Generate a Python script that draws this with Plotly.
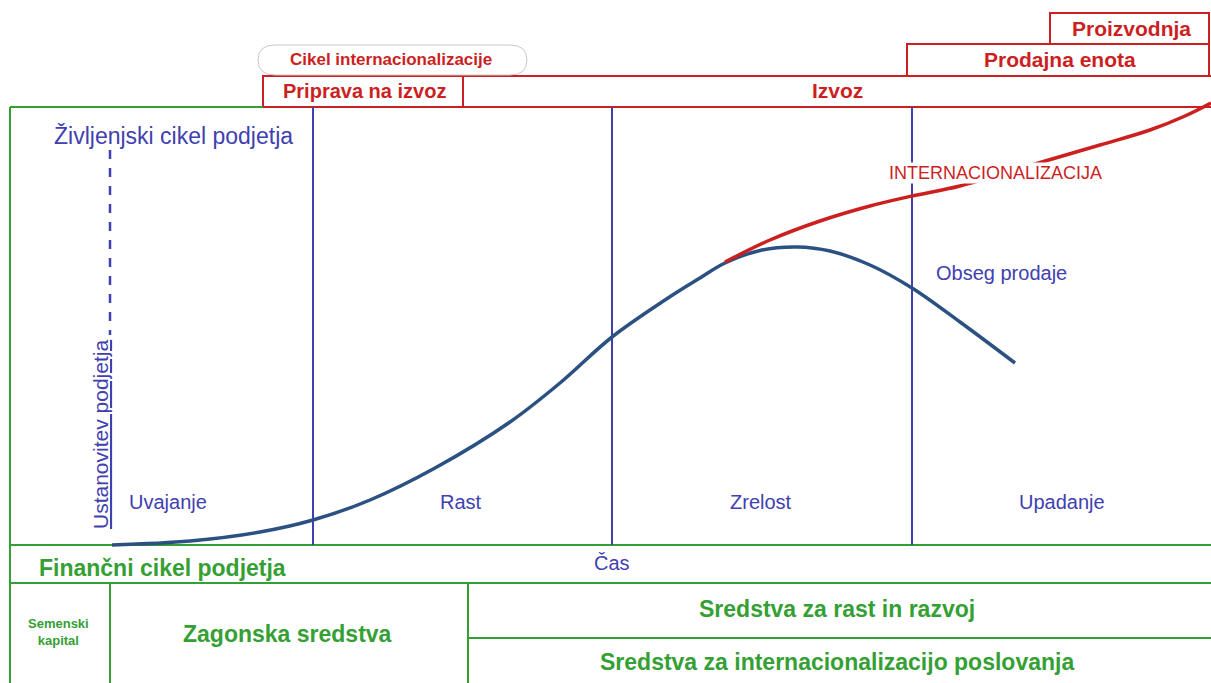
import plotly.graph_objects as go

# prodaja (life cycle curve) in internacionalizacija (pixel units)
sales_x = [112, 190, 260, 313, 370, 435, 510, 560, 612, 665, 700, 725, 762, 797, 830, 870, 912, 960, 1015]
sales_y = [545, 541, 532, 520, 500, 468, 422, 383, 337, 300, 278, 263, 250, 247, 251, 265, 288, 322, 363]
intl_x = [725, 770, 820, 870, 912, 960, 1035, 1100, 1150, 1185, 1211]
intl_y = [262, 240, 221, 206, 196, 186, 164, 145, 130, 116, 103]

phase_labels = ["Uvajanje", "Rast", "Zrelost", "Upadanje"]
phase_x = [168, 461, 761, 1062]
phase_bounds = [313, 612, 912]

BLUE = "#4040b0"
CURVE = "#2b5183"
RED = "#cc1f1f"
GREEN = "#34a034"
FONT = "Liberation Sans"
W, H = 1211, 683

fig = go.Figure()
fig.add_trace(go.Scatter(x=sales_x, y=sales_y, mode="lines", line=dict(color=CURVE, width=3.5, shape="spline"), hoverinfo="skip"))
fig.add_trace(go.Scatter(x=intl_x, y=intl_y, mode="lines", line=dict(color=RED, width=3.5, shape="spline"), hoverinfo="skip"))

shapes = []
def line(x0, y0, x1, y1, color, width=2, dash=None):
    shapes.append(dict(type="line", x0=x0, y0=y0, x1=x1, y1=y1, layer="below",
                       line=dict(color=color, width=width, dash=dash)))

def rect(x0, y0, x1, y1, color, width=2):
    shapes.append(dict(type="rect", x0=x0, y0=y0, x1=x1, y1=y1, layer="below",
                       line=dict(color=color, width=width), fillcolor="white"))

# red top boxes
rect(1050, 13, 1209, 44, RED)
rect(907, 44, 1209, 76, RED)
rect(463, 76, 1215, 107, RED)
rect(263, 76, 463, 107, RED)
# rounded pill
shapes.append(dict(type="path", layer="below",
                   path="M 275 45 L 510 45 Q 527 45 527 60 Q 527 75 510 75 L 275 75 Q 258 75 258 60 Q 258 45 275 45 Z",
                   line=dict(color="#c8c8c8", width=1), fillcolor="white"))

# green frame
line(10, 107, 263, 107, GREEN)
line(10, 107, 10, 690, GREEN)
line(10, 545, 1215, 545, GREEN)
line(10, 583, 1215, 583, GREEN)
line(110, 583, 110, 690, GREEN)
line(468, 583, 468, 690, GREEN)
line(468, 638, 1215, 638, GREEN)

for b in phase_bounds:
    line(b, 107, b, 545, BLUE, 2)
line(110, 150, 110, 335, BLUE, 2.5, "dash")

ann = []
def txt(x, y, s, color, size, bold=False, angle=0, bg=None):
    ann.append(dict(x=x, y=y, text=f"<b>{s}</b>" if bold else s, showarrow=False, textangle=angle,
                    bgcolor=bg, borderpad=0,
                    font=dict(family=FONT, size=size, color=color)))

txt(1131, 28, "Proizvodnja", RED, 21, True)
txt(1060, 59, "Prodajna enota", RED, 21, True)
txt(837, 90, "Izvoz", RED, 21, True)
txt(364, 91, "Priprava na izvoz", RED, 20, True)
txt(391, 59, "Cikel internacionalizacije", RED, 17, True)
txt(995, 173, "INTERNACIONALIZACIJA", RED, 18, bg="white")
txt(173, 136, "Življenjski cikel podjetja", BLUE, 23)
txt(1001, 273, "Obseg prodaje", BLUE, 20)
txt(100, 435, "<u>Ustanovitev podjetja</u>", BLUE, 21, angle=-90)
for lab, px in zip(phase_labels, phase_x):
    txt(px, 502, lab, BLUE, 20)
txt(612, 563, "Čas", BLUE, 20)
txt(162, 568, "Finančni cikel podjetja", GREEN, 23, True)
txt(58, 632, "Semenski<br>kapital", GREEN, 13, True)
txt(287, 634, "Zagonska sredstva", GREEN, 23, True)
txt(837, 609, "Sredstva za rast in razvoj", GREEN, 23, True)
txt(837, 662, "Sredstva za internacionalizacijo poslovanja", GREEN, 23, True)

fig.update_layout(
    width=W, height=H,
    margin=dict(l=0, r=0, t=0, b=0),
    paper_bgcolor="white", plot_bgcolor="white",
    showlegend=False,
    xaxis=dict(range=[0, W], visible=False, fixedrange=True),
    yaxis=dict(range=[H, 0], visible=False, fixedrange=True),
    shapes=shapes, annotations=ann,
)

# drop the default page margin so the figure fills the window exactly
fig.write_html("out.html", config={"displayModeBar": False},
               post_script="document.body.style.margin='0';document.body.style.overflow='hidden';")
